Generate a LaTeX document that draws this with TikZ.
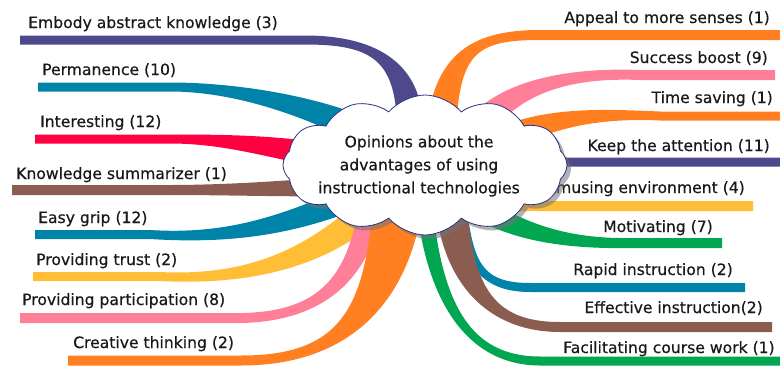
\documentclass[tikz,border=0pt]{standalone}
\usepackage{fontspec}
\setmainfont{DejaVu Sans}[FakeBold=0.5]
\usetikzlibrary{calc,shapes.symbols}
\definecolor{cpurple}{HTML}{4E488C}
\definecolor{cteal}{HTML}{0083A8}
\definecolor{cred}{HTML}{FF0040}
\definecolor{cbrown}{HTML}{8B5D50}
\definecolor{cyellow}{HTML}{FFBE36}
\definecolor{cpink}{HTML}{FF7F99}
\definecolor{corange}{HTML}{FF7F21}
\definecolor{cgreen}{HTML}{00A650}
\definecolor{cnavy}{HTML}{2B2F80}
% #1 name, #2 colour, #3 start, #4 normal at start, #5 ctrl1, #6 ctrl2, #7 joint, #8 end, #9 half width
\newcommand\mmbranch[9]{%
  \coordinate (#1s) at #3; \coordinate (#1a) at #5; \coordinate (#1b) at #6;
  \coordinate (#1j) at #7; \coordinate (#1e) at #8;
  \fill[#2] ($(#1s)+#4$) .. controls ($(#1a)+#4$) and ($(#1b)+(0,-#9)$) .. ($(#1j)+(0,-#9)$)
    -- ($(#1e)+(0,-#9)$) -- ($(#1e)+(0,#9)$) -- ($(#1j)+(0,#9)$)
    .. controls ($(#1b)+(0,#9)$) and ($(#1a)-#4$) .. ($(#1s)-#4$) -- cycle;}
\tikzset{
  lbl/.style={inner sep=0pt, font=\fontsize{15.6}{19}\selectfont, text=black!90},
  cloudshape/.style={cloud, cloud puffs=12, cloud puff arc=100, aspect=2.1,
    minimum width=284pt, minimum height=140pt, inner sep=0pt}
}
\begin{document}
\begin{tikzpicture}[x=1pt,y=-1pt]
\useasboundingbox (0,0) rectangle (780,365);
% left branches
\mmbranch{b1}{cpurple}{(410,125)}{(13,0)}{(408,60)}{(372,40)}{(305,40)}{(20,40)}{4.5}
\mmbranch{b2}{cteal}{(380,140)}{(6.9,-12.2)}{(330,112)}{(245,87)}{(170,87)}{(38,87)}{4.5}
\mmbranch{b3}{cred}{(350,160)}{(2.2,-12.8)}{(280,148)}{(230,139)}{(170,139)}{(35,139)}{4.5}
\mmbranch{b4}{cbrown}{(360,185)}{(-0.8,-10)}{(320,188)}{(240,190)}{(170,190)}{(12,190)}{5}
\mmbranch{b5}{cteal}{(360,195)}{(-4.6,-11.1)}{(295,222)}{(235,240)}{(150,234.5)}{(35,234.5)}{4.5}
\mmbranch{b6}{cyellow}{(380,200)}{(-9.7,-10.1)}{(320,258)}{(250,281)}{(160,276.5)}{(33,276.5)}{4.5}
\mmbranch{b7}{cpink}{(372,200)}{(-11.5,-2.5)}{(360,275)}{(325,320)}{(230,318)}{(20,318)}{5}
\mmbranch{b8}{corange}{(400,180)}{(-25,-1)}{(392,300)}{(350,361)}{(240,360.5)}{(68,360.5)}{5}
% right branches
\mmbranch{c1}{corange}{(440,150)}{(-15,-0.5)}{(443,55)}{(470,35)}{(540,35)}{(780,35)}{5}
\mmbranch{c2}{cpink}{(470,140)}{(-12.1,-7)}{(500,88)}{(565,72)}{(640,75)}{(775,75)}{5}
\mmbranch{c3}{corange}{(480,150)}{(-6.1,-11.5)}{(540,118)}{(590,113)}{(660,116)}{(780,116)}{4.5}
\mmbranch{c4}{cpurple}{(500,162)}{(0,-4.5)}{(530,162)}{(550,162)}{(570,162)}{(780,162)}{4.5}
\mmbranch{c5}{cyellow}{(480,206)}{(0,-5)}{(500,206)}{(520,206)}{(540,206)}{(753,206)}{5}
\mmbranch{c6}{cgreen}{(460,195)}{(7.1,-9.6)}{(510,232)}{(565,244)}{(630,243)}{(722,243)}{5}
\mmbranch{c7}{cteal}{(458,195)}{(6.9,-0.9)}{(466,260)}{(478,287.5)}{(530,287.5)}{(745,287.5)}{4.5}
\mmbranch{c9}{cgreen}{(423,190)}{(8,-0.5)}{(432,305)}{(470,361)}{(540,361)}{(790,361)}{4.5}
\mmbranch{c8}{cbrown}{(450,190)}{(16,-0.8)}{(455,285)}{(490,327)}{(560,327)}{(772,327)}{5}
% labels left
\node[lbl, anchor=base west] (l1) at (28,28) {Embody abstract knowledge (3)};
\node[lbl, anchor=base west] (l2) at (42,75) {Permanence (10)};
\node[lbl, anchor=base west] (l3) at (40,127) {Interesting (12)};
\node[lbl, anchor=base west] (l4) at (16,179) {Knowledge summarizer (1)};
\node[lbl, anchor=base west] (l5) at (38,223) {Easy grip (12)};
\node[lbl, anchor=base west] (l6) at (36,265) {Providing trust (2)};
\node[lbl, anchor=base west] (l7) at (22,305) {Providing participation (8)};
\node[lbl, anchor=base west] (l8) at (73,348) {Creative thinking (2)};
% labels right
\node[lbl, anchor=base east] (r1) at (770,23) {Appeal to more senses (1)};
\node[lbl, anchor=base east] (r2) at (768,63) {Success boost (9)};
\node[lbl, anchor=base east] (r3) at (773,103) {Time saving (1)};
\node[lbl, anchor=base east] (r4) at (770,151) {Keep the attention (11)};
\node[lbl, anchor=base east] (r5) at (745,193) {Amusing environment (4)};
\node[lbl, anchor=base east] (r6) at (713,232) {Motivating (7)};
\node[lbl, anchor=base east] (r7) at (733,275) {Rapid instruction (2)};
\node[lbl, anchor=base east] (r8) at (763,313) {Effective instruction(2)};
\node[lbl, anchor=base west] (r9) at (563,353) {Facilitating course work (1)};
% central cloud
\node[cloudshape, fill=black!55, opacity=.55] (cloudshadow) at (429,169) {};
\node[cloudshape, fill=white, draw=cnavy, line width=0.8pt] (cloud) at (425,165) {};
\node[lbl, align=center, font=\fontsize{15.6}{23}\selectfont] (title) at (419,166)
  {Opinions about the\\advantages of using\\instructional technologies};
\end{tikzpicture}
\end{document}
